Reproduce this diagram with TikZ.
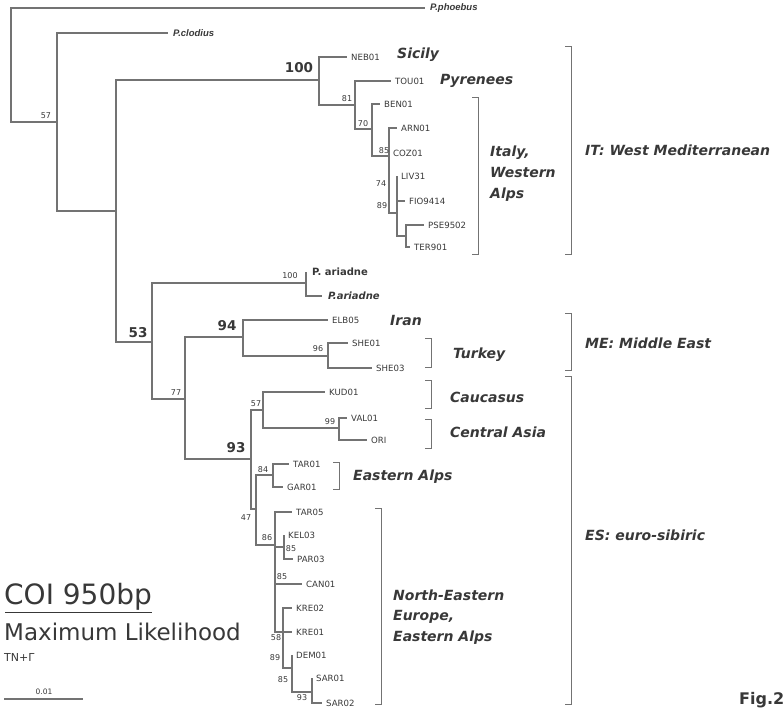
\documentclass[tikz,border=0pt]{standalone}
\usepackage{fontspec}
\setmainfont{DejaVu Sans}
\newfontfamily\arialfont{Liberation Sans}
\definecolor{branch}{gray}{0.45}
\definecolor{ink}{gray}{0.22}
\begin{document}
\begin{tikzpicture}[x=1pt, y=-1pt,
  br/.style={draw=branch, line width=1.1pt},
  brk/.style={draw=branch, line width=0.9pt},
  tip/.style={anchor=west, inner xsep=4pt, inner ysep=1pt, text=ink, font=\fontsize{8.6}{9}\selectfont},
  outtip/.style={anchor=west, inner xsep=5pt, inner ysep=1pt, text=ink, font=\arialfont\bfseries\itshape\fontsize{9.5}{10}\selectfont},
  sup/.style={inner sep=0pt, text=ink, font=\fontsize{8}{9}\selectfont},
  bigsup/.style={inner sep=0pt, text=ink, font=\bfseries\fontsize{13.5}{14}\selectfont},
  area/.style={anchor=west, align=left, inner sep=0pt, text=ink, font=\bfseries\itshape\fontsize{14}{21}\selectfont}]
\useasboundingbox (0,0) rectangle (783,710);

% internal nodes
\coordinate (root) at (11,65);
\coordinate (nout) at (57,122);
\coordinate (nin) at (116,211);
\coordinate (n100) at (319,80);
\coordinate (n81) at (355,105);
\coordinate (n70) at (372,129);
\coordinate (n85) at (389,156);
\coordinate (nliv) at (397,213);
\coordinate (npse) at (406,236);
\coordinate (n53) at (152,342);
\coordinate (nari) at (306,283);
\coordinate (n77) at (185,399);
\coordinate (n94) at (243,337);
\coordinate (n96) at (328,356);
\coordinate (n93) at (251,459);
\coordinate (n57) at (263,410);
\coordinate (n99) at (339,428);
\coordinate (n47) at (256,509);
\coordinate (n84) at (273,475);
\coordinate (n86) at (275,545);
\coordinate (nkel) at (284,547);
\coordinate (n58) at (283,632);
\coordinate (n89) at (292,668);
\coordinate (nsar) at (312,692);

% tips
\node[outtip] (phoebus) at (425,8) {P.phoebus};
\node[outtip] (clodius) at (168,33) {P.clodius};
\node[tip] (neb) at (347,57) {NEB01};
\node[tip] (tou) at (391,81) {TOU01};
\node[tip] (ben) at (380,104) {BEN01};
\node[tip] (arn) at (397,128) {ARN01};
\node[tip] (coz) at (389,153) {COZ01};
\node[tip] (liv) at (397,176) {LIV31};
\node[tip] (fio) at (405,201) {FIO9414};
\node[tip] (pse) at (424,225) {PSE9502};
\node[tip] (ter) at (410,247) {TER901};
\node[tip, font=\bfseries\fontsize{10}{11}\selectfont, inner xsep=6pt] (aria) at (306,272) {P. ariadne};
\node[tip, font=\bfseries\itshape\fontsize{10}{11}\selectfont, inner xsep=6pt] (arib) at (322,296) {P.ariadne};
\node[tip] (elb) at (328,320) {ELB05};
\node[tip] (she1) at (348,343) {SHE01};
\node[tip] (she3) at (372,368) {SHE03};
\node[tip] (kud) at (325,392) {KUD01};
\node[tip] (val) at (347,418) {VAL01};
\node[tip] (ori) at (367,440) {ORI};
\node[tip] (tar1) at (289,464) {TAR01};
\node[tip] (gar) at (283,487) {GAR01};
\node[tip] (tar5) at (292,512) {TAR05};
\node[tip] (kel) at (284,535) {KEL03};
\node[tip] (par) at (293,559) {PAR03};
\node[tip] (can) at (302,584) {CAN01};
\node[tip] (kre2) at (292,608) {KRE02};
\node[tip] (kre1) at (292,632) {KRE01};
\node[tip] (dem) at (292,655) {DEM01};
\node[tip] (sar1) at (312,678) {SAR01};
\node[tip] (sar2) at (322,703) {SAR02};

% branches
\foreach \c in {phoebus,nout} \draw[br] (root) |- (\c);
\foreach \c in {clodius,nin} \draw[br] (nout) |- (\c);
\foreach \c in {n100,n53} \draw[br] (nin) |- (\c);
\foreach \c in {neb,n81} \draw[br] (n100) |- (\c);
\foreach \c in {tou,n70} \draw[br] (n81) |- (\c);
\foreach \c in {ben,n85} \draw[br] (n70) |- (\c);
\foreach \c in {arn,coz,nliv} \draw[br] (n85) |- (\c);
\foreach \c in {liv,fio,npse} \draw[br] (nliv) |- (\c);
\foreach \c in {pse,ter} \draw[br] (npse) |- (\c);
\foreach \c in {nari,n77} \draw[br] (n53) |- (\c);
\foreach \c in {aria,arib} \draw[br] (nari) |- (\c);
\foreach \c in {n94,n93} \draw[br] (n77) |- (\c);
\foreach \c in {elb,n96} \draw[br] (n94) |- (\c);
\foreach \c in {she1,she3} \draw[br] (n96) |- (\c);
\foreach \c in {n57,n47} \draw[br] (n93) |- (\c);
\foreach \c in {kud,n99} \draw[br] (n57) |- (\c);
\foreach \c in {val,ori} \draw[br] (n99) |- (\c);
\foreach \c in {n84,n86} \draw[br] (n47) |- (\c);
\foreach \c in {tar1,gar} \draw[br] (n84) |- (\c);
\foreach \c in {tar5,nkel,can,n58} \draw[br] (n86) |- (\c);
\foreach \c in {kel,par} \draw[br] (nkel) |- (\c);
\foreach \c in {kre2,kre1,n89} \draw[br] (n58) |- (\c);
\foreach \c in {dem,nsar} \draw[br] (n89) |- (\c);
\foreach \c in {sar1,sar2} \draw[br] (nsar) |- (\c);

% support values
\node[sup] (s57) at (46,116) {57};
\node[bigsup] (s100) at (299,68) {100};
\node[sup] (s81) at (347,99) {81};
\node[sup] (s70) at (363,124) {70};
\node[sup] (s85a) at (384,151) {85};
\node[sup] (s74) at (381,184) {74};
\node[sup] (s89a) at (382,206) {89};
\node[bigsup] (s53) at (138,333) {53};
\node[sup] (s100b) at (290,276) {100};
\node[bigsup] (s94) at (227,326) {94};
\node[sup] (s96) at (318,349) {96};
\node[sup] (s77) at (176,393) {77};
\node[sup] (s57b) at (256,404) {57};
\node[sup] (s99) at (330,422) {99};
\node[bigsup] (s93) at (236,448) {93};
\node[sup] (s84) at (263,470) {84};
\node[sup] (s47) at (246,518) {47};
\node[sup] (s86) at (267,538) {86};
\node[sup] (s85b) at (291,549) {85};
\node[sup] (s85c) at (282,577) {85};
\node[sup] (s58) at (276,638) {58};
\node[sup] (s89b) at (275,658) {89};
\node[sup] (s85d) at (283,680) {85};
\node[sup] (s93b) at (302,698) {93};

% local groups
\node[area] (sicily) at (397,55) {Sicily};
\node[area] (pyr) at (440,81) {Pyrenees};
\node[area] (italy) at (490,174) {Italy,\\Western\\Alps};
\node[area] (iran) at (390,320) {Iran};
\node[area] (turkey) at (453,355) {Turkey};
\node[area] (cauc) at (450,397) {Caucasus};
\node[area] (casia) at (450,432) {Central Asia};
\node[area] (ealps) at (353,477) {Eastern Alps};
\node[area, font=\bfseries\itshape\fontsize{14}{20.5}\selectfont] (neeur) at (393,617) {North-Eastern\\Europe,\\Eastern Alps};
\draw[brk] (472,97) -| (478,254) -- (472,254);
\draw[brk] (425,338) -| (431,367) -- (425,367);
\draw[brk] (425,380) -| (431,408) -- (425,408);
\draw[brk] (425,419) -| (431,448) -- (425,448);
\draw[brk] (333,462) -| (339,489) -- (333,489);
\draw[brk] (375,508) -| (381,704) -- (375,704);

% lineages
\node[area] (it) at (585,150) {IT: West Mediterranean};
\node[area] (me) at (585,343) {ME: Middle East};
\node[area] (es) at (585,535) {ES: euro-sibiric};
\draw[brk] (565,46) -| (571,254) -- (565,254);
\draw[brk] (565,313) -| (571,370) -- (565,370);
\draw[brk] (565,376) -| (571,704) -- (565,704);
\node[anchor=west, inner sep=0pt, text=ink, font=\bfseries\fontsize{16}{18}\selectfont] (fig) at (739,700) {Fig.2};

% legend
\node[anchor=west, inner sep=0pt, text=ink, font=\fontsize{28}{30}\selectfont] (coi) at (4,597) {COI 950bp};
\draw[ink, line width=1.3pt] (coi.south west) ++(1,2) -- ([yshift=-2pt]coi.south east);
\node[anchor=west, inner sep=0pt, text=ink, font=\fontsize{23}{26}\selectfont] (ml) at (4,632) {Maximum Likelihood};
\node[anchor=west, inner sep=0pt, text=ink, font=\fontsize{11}{12}\selectfont] (tn) at (4,657) {TN+Γ};
\node[sup, font=\fontsize{7.5}{8}\selectfont] (scale) at (44,692) {0.01};
\draw[br] (4,699) -- (83,699);
\end{tikzpicture}
\end{document}
